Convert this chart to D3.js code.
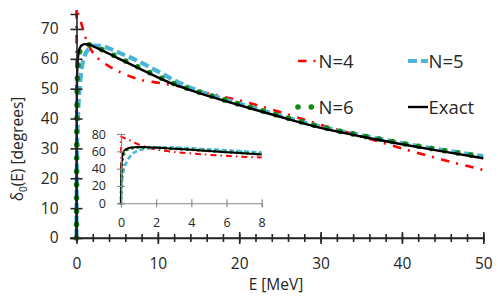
<!DOCTYPE html>
<html>
    <head>
        <script src="https://d3js.org/d3.v7.min.js"></script>
        <style>
            body{margin:0;background:#fff;}
            text{font-family:"Open Sans", sans-serif;fill:#262626;}
        </style>
    </head>
    <body>
        <svg height="305" width="498" id="chart"></svg>
        <script>
            // energies (MeV) shared by all series
            const energy=[0,0.01,0.03,0.06,0.1,0.2,0.35,0.6,1,1.5,2.2,3,4,5,6.5,8,10,12,15,18,21,25,30,35,40,45,50];
            // phase shifts in degrees
            const n4=[40,77,76.8,76.5,76,75.2,74,71.8,68,64.5,61.4,59.3,57.5,56,54.2,52.9,52,51.1,49.2,47.3,45.4,42.2,37.9,34,30,26.2,22.8];
            const n5=[0,8,18,27,34,42,49,56,61,63.3,64.4,64.3,63.5,62.3,60.6,58.6,55.8,52.8,49.3,46.6,44.2,41,37.3,34.4,31.8,29.5,27.4];
            const n6=[0,15,32,45,52,58.5,61.8,63.6,64.5,64.7,64.1,63.2,62,60.6,58.7,56.7,54.1,51.7,48.9,46.4,44,40.9,37.2,34.3,31.7,29.3,27.1];
            const exact=[0,25,42,52,57,61,63.2,64.4,64.9,64.8,64,63,61.7,60.3,58.4,56.4,53.8,51.4,48.6,46.1,43.7,40.6,36.9,34,31.4,29,26.7];

            const seriesNames=["N=4","N=5","N=6","Exact"];
            const xTicks=[0,10,20,30,40,50];
            const xMinor=d3.range(0,51,2);
            const yTicks=[0,10,20,30,40,50,60,70];
            const insetXTicks=[0,2,4,6,8];
            const insetYTicks=[0,20,40,60,80];

            let svg=d3.select("#chart");

            const styles=[
                {values:n4, color:"#ff0000", width:2.6, dash:"8.5,7,2,7.5", cap:"butt", iw:2, idash:"6,4,1.5,4"},
                {values:n5, color:"#4bb4d9", width:4.2, dash:"9,4", cap:"butt", iw:2.6, idash:"5,2.5"},
                {values:n6, color:"#108a10", width:5.6, dash:"0,13.3", cap:"round", iw:3.2, idash:"0,5.5"},
                {values:exact, color:"#000000", width:2.4, dash:null, cap:"butt", iw:2, idash:null}
            ];

            // main chart
            let x=d3.scaleLinear().domain([0,50]).range([76.5,483.3]);
            let y=d3.scaleLinear().domain([0,75]).range([238,14]);

            let main=svg.append("g");
            let line=d3.line().x(d=>x(d[0])).y(d=>y(d[1])).curve(d3.curveMonotoneX);

            styles.forEach(s=>{
                main.append("path")
                    .datum(energy.map((e,i)=>[e,s.values[i]]))
                    .attr("d", line)
                    .style("fill","none")
                    .style("stroke", s.color)
                    .style("stroke-width", s.width)
                    .style("stroke-linecap", s.cap)
                    .style("stroke-dasharray", s.dash);
            });

            // axes
            let xMinorAxis=svg.append("g").attr("transform","translate(0,238)")
                .call(d3.axisBottom(x).tickValues(xMinor).tickFormat("").tickSizeOuter(0).tickSize(4));
            xMinorAxis.selectAll("line").attr("y1",-4).attr("y2",4);
            let xAxis=svg.append("g").attr("transform","translate(0,238)")
                .call(d3.axisBottom(x).tickValues(xTicks).tickSizeOuter(0).tickSize(6).tickPadding(13.5));
            xAxis.selectAll("line").attr("y1",-6).attr("y2",6);
            let yAxis=svg.append("g").attr("transform","translate(76.5,0)")
                .call(d3.axisLeft(y).tickValues(yTicks).tickSizeOuter(0).tickSize(6).tickPadding(12));
            yAxis.selectAll("line").attr("x1",-6).attr("x2",6);
            [xMinorAxis,xAxis,yAxis].forEach(a=>{
                a.selectAll("path,line").style("stroke","#262626").style("stroke-width",1.6);
                a.selectAll("text").style("font-size","15.5px").style("font-family","Open Sans").style("fill","#262626");
            });
            xAxis.select(".domain").attr("d","M70,0H483.3");

            // axis titles
            svg.append("text").attr("x",276).attr("y",290).attr("text-anchor","middle")
                .style("font-size","15.5px").text("E [MeV]");
            let yt=svg.append("text").attr("transform","translate(23,149) rotate(-90)").attr("text-anchor","middle")
                .style("font-size","15.5px");
            yt.append("tspan").text("δ");
            yt.append("tspan").attr("dy",4).style("font-size","10px").text("0");
            yt.append("tspan").attr("dy",-4).text("(E) [degrees]");

            // inset
            let xi=d3.scaleLinear().domain([0,8]).range([121,261.7]);
            let yi=d3.scaleLinear().domain([0,80]).range([203.3,134]);
            let inset=svg.append("g");
            let iline=d3.line().x(d=>xi(d[0])).y(d=>yi(d[1])).curve(d3.curveMonotoneX);
            styles.forEach(s=>{
                inset.append("path")
                    .datum(energy.map((e,i)=>[e,s.values[i]]).filter(d=>d[0]<=8))
                    .attr("d", iline)
                    .style("fill","none")
                    .style("stroke", s.color)
                    .style("stroke-width", s.iw)
                    .style("stroke-linecap", s.cap)
                    .style("stroke-dasharray", s.idash);
            });
            let xiAxis=svg.append("g").attr("transform","translate(0,203.3)")
                .call(d3.axisBottom(xi).tickValues(insetXTicks).tickSizeOuter(0).tickSize(4).tickPadding(10.5));
            xiAxis.selectAll("line").attr("y1",-4).attr("y2",4);
            let yiAxis=svg.append("g").attr("transform","translate(121,0)")
                .call(d3.axisLeft(yi).tickValues(insetYTicks).tickSizeOuter(0).tickSize(4).tickPadding(11));
            yiAxis.selectAll("line").attr("x1",-4).attr("x2",4);
            [xiAxis,yiAxis].forEach(a=>{
                a.selectAll("path,line").style("stroke","#868686").style("stroke-width",1.1);
                a.selectAll("text").style("font-size","12.5px").style("font-family","Open Sans").style("fill","#262626");
            });

            // legend
            const legendPos=[[298,61],[408,61],[298,107],[408,107]];
            seriesNames.forEach((name,i)=>{
                let s=styles[i];
                let p=legendPos[i];
                svg.append("line").attr("x1",p[0]).attr("x2",p[0]+20).attr("y1",p[1]).attr("y2",p[1])
                    .style("stroke",s.color)
                    .style("stroke-width",s.width)
                    .style("stroke-linecap",s.cap)
                    .style("stroke-dasharray",s.dash);
                svg.append("text").attr("x",p[0]+20.5).attr("y",p[1]+6.5)
                    .style("font-size","18.5px").text(name);
            });
        </script>
    </body>
</html>
